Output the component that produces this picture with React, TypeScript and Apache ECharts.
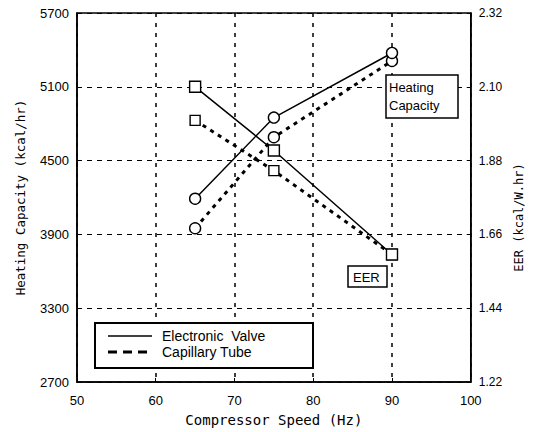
import React, { useEffect, useRef } from "react";
import * as echarts from "echarts";

const speeds = [65, 75, 90];
const heatValve = [4190, 4850, 5375];
const heatTube = [3950, 4690, 5310];
const eerValve = [2.1, 1.91, 1.6];
const eerTube = [2.0, 1.85, 1.6];
const eerBase = 1.22;

const leftTicks = { min: 2700, max: 5700, interval: 600 };
const xTicks = { min: 50, max: 100, interval: 10 };

const FONT = "'Liberation Sans', Arial, sans-serif";
const MONO = "'DejaVu Sans Mono', monospace";

export default function App() {
  const ref = useRef<HTMLDivElement>(null);
  useEffect(() => {
    if (!ref.current) return;
    const chart = echarts.init(ref.current, undefined, { renderer: "svg" });
    const pairs = (ys: number[], off = 0) => speeds.map((x, i) => [x, +(ys[i] - off).toFixed(4)]);
    const solid = { color: "#000", width: 1.5, type: "solid" as const };
    const dashed = { color: "#000", width: 3, type: [4, 5] };
    const marker = { color: "#fff", borderColor: "#000", borderWidth: 1.4 };
    chart.setOption({
      animation: false,
      backgroundColor: "#fff",
      textStyle: { fontFamily: FONT },
      grid: { left: 77, right: 61, top: 13, bottom: 49, show: true, borderColor: "#000", borderWidth: 1.5, backgroundColor: "transparent" },
      xAxis: {
        type: "value",
        ...xTicks,
        name: "Compressor Speed (Hz)",
        nameLocation: "middle",
        nameGap: 31,
        nameTextStyle: { fontFamily: MONO, fontSize: 14, color: "#000" },
        axisLine: { lineStyle: { color: "#000", width: 1.5 } },
        axisTick: { inside: true, length: 4, lineStyle: { color: "#000" } },
        axisLabel: { color: "#000", fontSize: 13, margin: 12, fontFamily: FONT },
        splitLine: { show: true, lineStyle: { color: "#000", width: 1.5, type: [4, 6] } },
      },
      yAxis: [
        {
          type: "value",
          ...leftTicks,
          name: "Heating Capacity (kcal/hr)",
          nameLocation: "middle",
          nameGap: 50,
          nameTextStyle: { fontFamily: MONO, fontSize: 12.5, color: "#000" },
          axisLine: { show: true, lineStyle: { color: "#000", width: 1.5 } },
          axisTick: { show: true, inside: true, length: 4, lineStyle: { color: "#000" } },
          axisLabel: { color: "#000", fontSize: 13, margin: 8, fontFamily: FONT, formatter: (v: number) => String(v) },
          splitLine: { show: true, lineStyle: { color: "#000", width: 1.2, type: [5, 5] } },
        },
        {
          type: "value",
          min: 0,
          max: 1.1,
          interval: 0.22,
          position: "right",
          name: "EER (kcal/W.hr)",
          nameLocation: "middle",
          nameGap: 34,
          nameRotate: 90,
          nameTextStyle: { fontFamily: MONO, fontSize: 12, color: "#000", padding: [0, 40, 0, 0] },
          axisLine: { show: true, lineStyle: { color: "#000", width: 1.5 } },
          axisTick: { show: true, inside: true, length: 4, lineStyle: { color: "#000" } },
          axisLabel: {
            color: "#000",
            fontSize: 12,
            margin: 8,
            fontFamily: FONT,
            formatter: (v: number) => (v + eerBase).toFixed(2),
          },
          splitLine: { show: false },
        },
      ],
      series: [
        { name: "Electronic Valve", type: "line", data: pairs(heatValve), yAxisIndex: 0, symbol: "circle", symbolSize: 11, lineStyle: solid, itemStyle: marker, z: 3 },
        { name: "Capillary Tube", type: "line", data: pairs(heatTube), yAxisIndex: 0, symbol: "circle", symbolSize: 11, lineStyle: dashed, itemStyle: marker, z: 2 },
        { name: "Electronic Valve EER", type: "line", data: pairs(eerValve, eerBase), yAxisIndex: 1, symbol: "rect", symbolSize: 11, lineStyle: solid, itemStyle: marker, z: 3 },
        { name: "Capillary Tube EER", type: "line", data: pairs(eerTube, eerBase), yAxisIndex: 1, symbol: "rect", symbolSize: 10, lineStyle: dashed, itemStyle: marker, z: 2 },
      ],
      graphic: [
        { type: "rect", shape: { x: 95, y: 323, width: 218, height: 45 }, style: { fill: "#fff", stroke: "#000", lineWidth: 2 }, z: 10 },
        { type: "line", shape: { x1: 108, y1: 336, x2: 152, y2: 336 }, style: { stroke: "#000", lineWidth: 1.5 }, z: 11 },
        { type: "line", shape: { x1: 108, y1: 352, x2: 152, y2: 352 }, style: { stroke: "#000", lineWidth: 3, lineDash: [9, 6] }, z: 11 },
        { type: "text", x: 162, y: 336, style: { text: "Electronic  Valve", font: `14px ${FONT}`, fill: "#000", verticalAlign: "middle" }, z: 11 },
        { type: "text", x: 162, y: 352, style: { text: "Capillary Tube", font: `14px ${FONT}`, fill: "#000", verticalAlign: "middle" }, z: 11 },
        { type: "rect", shape: { x: 386, y: 75, width: 72, height: 43 }, style: { fill: "#fff", stroke: "#000", lineWidth: 1.5 }, z: 10 },
        { type: "text", x: 389, y: 87, style: { text: "Heating", font: `13px ${FONT}`, fill: "#000", verticalAlign: "middle" }, z: 11 },
        { type: "text", x: 389, y: 105, style: { text: "Capacity", font: `13px ${FONT}`, fill: "#000", verticalAlign: "middle" }, z: 11 },
        { type: "rect", shape: { x: 348, y: 266, width: 39, height: 21 }, style: { fill: "#fff", stroke: "#000", lineWidth: 1.5 }, z: 10 },
        { type: "text", x: 353, y: 277, style: { text: "EER", font: `13px ${FONT}`, fill: "#000", verticalAlign: "middle" }, z: 11 },
      ],
    });
    return () => chart.dispose();
  }, []);
  return <div ref={ref} style={{ position: "fixed", left: 0, top: 0, width: 533, height: 432 }} />;
}
